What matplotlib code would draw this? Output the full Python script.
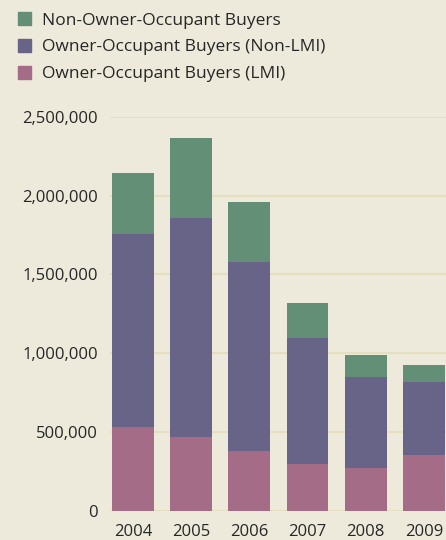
import matplotlib
matplotlib.use("Agg")
import matplotlib.pyplot as plt
from matplotlib.patches import Patch
from matplotlib.ticker import FuncFormatter

years = ["2004", "2005", "2006", "2007", "2008", "2009"]
lmi = [532000, 469000, 380000, 298000, 272000, 355000]
non_lmi = [1223000, 1390000, 1198000, 798000, 577000, 462000]
non_owner = [387000, 505000, 380000, 222000, 139000, 108000]

labels = ["Non-Owner-Occupant Buyers",
          "Owner-Occupant Buyers (Non-LMI)",
          "Owner-Occupant Buyers (LMI)"]
colors = ["#628f76", "#676487", "#a46c86"]
bg = "#edeadb"
grid_c = "#e6dfbf"
text_c = "#262626"

plt.rcParams["font.family"] = ["Open Sans", "DejaVu Sans"]

fig = plt.figure(figsize=(4.46, 5.40), dpi=100, facecolor=bg)
ax = fig.add_axes([0.2466, 0.0537, 0.7534, 0.7302], facecolor=bg)

x = list(range(len(years)))
bottom2 = [a + b for a, b in zip(lmi, non_lmi)]
ax.bar(x, lmi, width=0.72, color=colors[2], zorder=3)
ax.bar(x, non_lmi, width=0.72, bottom=lmi, color=colors[1], zorder=3)
ax.bar(x, non_owner, width=0.72, bottom=bottom2, color=colors[0], zorder=3)

ax.set_xlim(-0.395, 5.38)
ax.set_ylim(0, 2500000)
ax.set_yticks(range(0, 2500001, 500000))
ax.yaxis.set_major_formatter(FuncFormatter(lambda v, p: f"{int(v):,}"))
ax.set_xticks(x)
ax.set_xticklabels(years)
ax.grid(axis="y", color=grid_c, linewidth=1.5, zorder=0)
ax.tick_params(length=0, labelsize=12, colors=text_c)
ax.tick_params(axis="y", pad=8.6)
ax.tick_params(axis="x", pad=9)
for s in ax.spines.values():
    s.set_visible(False)

handles = [Patch(color=c) for c in colors]
fig.legend(handles, labels, loc="upper left", bbox_to_anchor=(0.012, 1.0),
           frameon=False, fontsize=12.5, labelcolor=text_c,
           handlelength=0.75, handleheight=0.75, handletextpad=0.65,
           labelspacing=0.6, borderaxespad=0.3)

fig.savefig("out.png", dpi=100, facecolor=bg)
